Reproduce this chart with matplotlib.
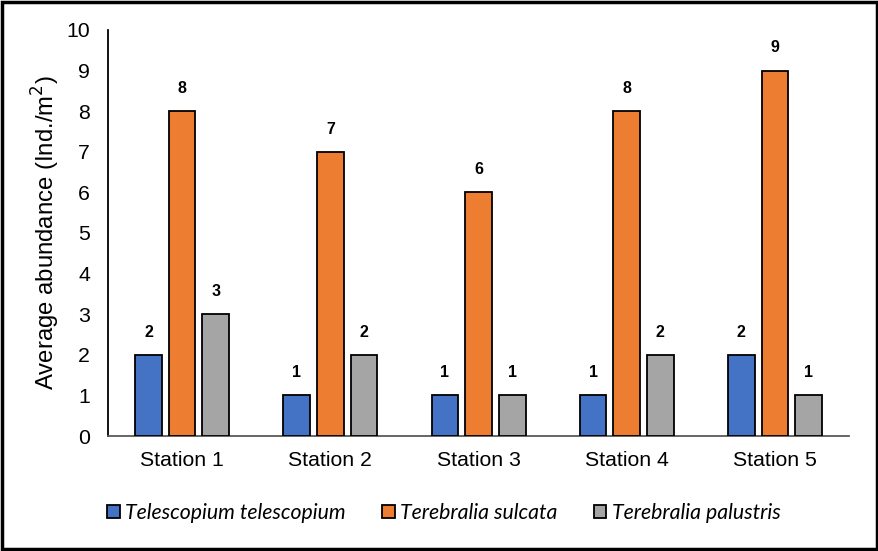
import numpy as np
import matplotlib
matplotlib.use("Agg")
import matplotlib.pyplot as plt
from matplotlib.patches import Rectangle

stations = ["Station 1", "Station 2", "Station 3", "Station 4", "Station 5"]
species = ["Telescopium telescopium", "Terebralia sulcata", "Terebralia palustris"]
telescopium = [2, 1, 1, 1, 2]
sulcata = [8, 7, 6, 8, 9]
palustris = [3, 2, 1, 2, 1]
colors = ["#4472C4", "#ED7D31", "#A5A5A5"]

fig = plt.figure(figsize=(8.79, 5.51), dpi=100)
ax = fig.add_axes([0.1229, 0.2087, 0.8430, 0.7369])

x = np.arange(len(stations))
width = 0.18
pitch = 0.227
series = [telescopium, sulcata, palustris]
for i, (vals, col, name) in enumerate(zip(series, colors, species)):
    bars = ax.bar(x + (i - 1) * pitch, vals, width, color=col, edgecolor="black",
                  linewidth=1.3, label=name, zorder=3)
    for b, v in zip(bars, vals):
        ax.annotate(str(v), (b.get_x() + b.get_width() / 2, v), xytext=(0, 11),
                    textcoords="offset points", ha="center", va="bottom",
                    fontsize=11.5, fontweight="bold", family="Liberation Sans")

ax.set_xlim(-0.5, len(stations) - 0.5)
ax.set_ylim(0, 10)
ax.set_yticks(range(0, 11))
ax.set_xticks(x)
ax.set_xticklabels(stations)
ax.tick_params(length=0, labelsize=15.3)
ax.tick_params(axis="x", pad=11)
ax.tick_params(axis="y", pad=13)
for lab in ax.get_xticklabels() + ax.get_yticklabels():
    lab.set_family("Liberation Sans")
ax.spines["top"].set_visible(False)
ax.spines["right"].set_visible(False)
ax.spines["left"].set_color("black")
ax.spines["left"].set_linewidth(1.3)
ax.spines["bottom"].set_color("#595959")
ax.spines["bottom"].set_linewidth(1.3)
ax.set_ylabel("Average abundance (Ind./m$^2$)", fontsize=17.2,
              family="Liberation Sans", labelpad=3)

handles, labels = ax.get_legend_handles_labels()
fig.legend(handles, labels, loc="center", bbox_to_anchor=(0.505, 0.069), ncol=3,
           frameon=False, handlelength=0.6, handleheight=0.6,
           handletextpad=0.25, columnspacing=1.7,
           prop={"family": "Lato", "style": "italic", "size": 15.3})

fig.patches.append(Rectangle((0.002, 0.003), 0.996, 0.994, transform=fig.transFigure,
                             fill=False, edgecolor="black", linewidth=2.5))

fig.savefig("out.png", dpi=100)
